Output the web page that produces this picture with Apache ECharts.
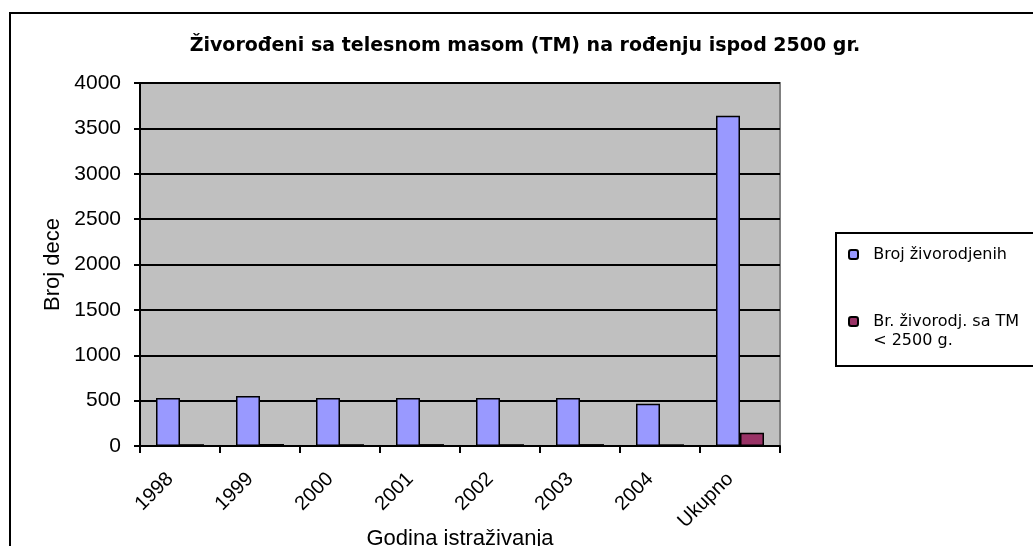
<!DOCTYPE html>
<html>
<head>
<meta charset="utf-8">
<script src="https://cdn.jsdelivr.net/npm/echarts@6/dist/echarts.min.js"></script>
<style>
    html, body {
        margin: 0;
        padding: 0;
        background: #fff;
    }

    #main {
        width: 1033px;
        height: 546px;
    }
</style>
</head>
<body>
<div id="main"></div>
<script>
    // kategorije (godine)
    var godine = ['1998', '1999', '2000', '2001', '2002', '2003', '2004', 'Ukupno'];
    // broj zivorodjenih
    var zivorodjeni = [530, 550, 530, 530, 530, 530, 465, 3640];
    // zivorodjeni sa TM < 2500 g
    var malaTM = [20, 22, 20, 21, 20, 21, 19, 145];
    var yTicks = [0, 500, 1000, 1500, 2000, 2500, 3000, 3500, 4000];

    var font = '"Liberation Sans", Arial, sans-serif';
    var wideFont = '"DejaVu Sans", sans-serif';
    var chart = echarts.init(document.getElementById('main'));

    var option = {
        animation: false,
        backgroundColor: '#fff',
        title: {
            text: 'Živorođeni sa telesnom masom (TM) na rođenju ispod 2500 gr.',
            left: 520,
            top: 32,
            textAlign: 'center',
            textStyle: { fontFamily: wideFont, fontSize: 19, fontWeight: 'bold', color: '#000' }
        },
        // okvir oko cele slike
        graphic: [{
            type: 'rect',
            shape: { x: 10, y: 13, width: 1100, height: 600 },
            style: { fill: 'none', stroke: '#000', lineWidth: 2 },
            silent: true
        }],
        legend: {
            orient: 'vertical',
            left: 836,
            top: 233,
            padding: [12, 200, 16, 12],
            itemGap: 29,
            itemWidth: 9,
            itemHeight: 9,
            borderColor: '#000',
            borderWidth: 2,
            backgroundColor: '#fff',
            formatter: function (name) {
                // drugi red ide ispod, prazan red gore da ikonica stoji uz prvi red
                if (name.indexOf(' < ') > 0) {
                    return ' \n  ' + name.replace(' < ', '\n  < ');
                }
                return '  ' + name;
            },
            textStyle: { fontFamily: wideFont, fontSize: 16, color: '#000', lineHeight: 19 },
            data: ['Broj živorodjenih', 'Br. živorodj. sa TM < 2500 g.']
        },
        grid: {
            left: 140,
            right: 253,
            top: 83,
            bottom: 100,
            outerBoundsMode: 'none',
            containLabel: false,
            show: true,
            backgroundColor: '#C0C0C0',
            borderColor: '#808080',
            borderWidth: 2
        },
        xAxis: {
            type: 'category',
            data: godine,
            name: 'Godina istraživanja',
            nameLocation: 'middle',
            nameGap: 82,
            nameMoveOverlap: false,
            nameTextStyle: { fontFamily: font, fontSize: 22, color: '#000' },
            axisLine: { lineStyle: { color: '#000', width: 2 } },
            axisTick: { show: true, length: 7, lineStyle: { color: '#000', width: 2 } },
            axisLabel: {
                rotate: 45, fontFamily: font, fontSize: 20, color: '#000',
                margin: 20, padding: [0, 14, 0, 0]
            }
        },
        yAxis: {
            type: 'value',
            min: 0,
            max: 4000,
            interval: 500,
            name: 'Broj dece',
            nameLocation: 'middle',
            nameGap: 76,
            nameMoveOverlap: false,
            nameTextStyle: { fontFamily: font, fontSize: 22, color: '#000' },
            axisLine: { show: true, lineStyle: { color: '#000', width: 2 } },
            axisTick: { show: true, length: 6, lineStyle: { color: '#000', width: 2 } },
            axisLabel: {
                fontFamily: font, fontSize: 21, color: '#000', margin: 19,
                formatter: function (v) { return yTicks.indexOf(v) >= 0 ? String(v) : ''; }
            },
            splitLine: { lineStyle: { color: '#000', width: 2 } }
        },
        series: [
            {
                name: 'Broj živorodjenih',
                type: 'bar',
                data: zivorodjeni,
                barGap: '0%',
                barCategoryGap: '40%',
                itemStyle: { color: '#9999FF', borderColor: '#000', borderWidth: 1.5 }
            },
            {
                name: 'Br. živorodj. sa TM < 2500 g.',
                type: 'bar',
                data: malaTM,
                itemStyle: { color: '#993366', borderColor: '#000', borderWidth: 1.5 }
            }
        ]
    };

    chart.setOption(option);
</script>
</body>
</html>
